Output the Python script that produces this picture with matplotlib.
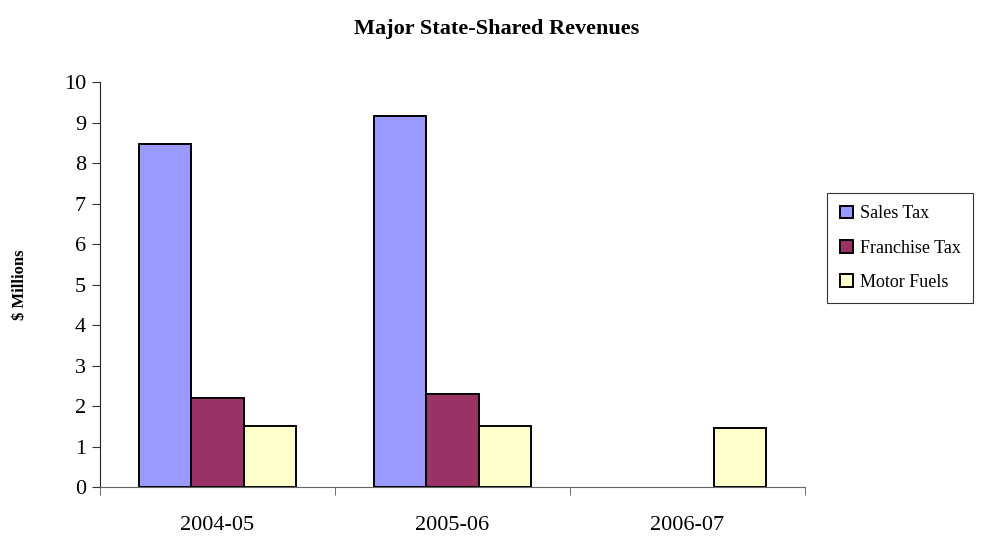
import numpy as np
import matplotlib.pyplot as plt

plt.rcParams['font.family'] = ['Liberation Serif', 'DejaVu Serif']

years = ["2004-05", "2005-06", "2006-07"]
sales_tax = [8.47, 9.16, 0]
franchise_tax = [2.2, 2.3, 0]
motor_fuels = [1.5, 1.5, 1.46]

series = [("Sales Tax", sales_tax, "#9999ff"),
          ("Franchise Tax", franchise_tax, "#993366"),
          ("Motor Fuels", motor_fuels, "#ffffcc")]

fig = plt.figure(figsize=(9.93, 5.37), dpi=100)
ax = fig.add_axes([0.1007, 0.0931, 0.71, 0.754])

x = np.arange(len(years))
w = 0.222
for i, (name, vals, col) in enumerate(series):
    vals = np.array(vals, dtype=float)
    vals[vals == 0] = np.nan  # no outline for empty bars
    ax.bar(x + (i - 1) * w, vals, width=w, color=col, edgecolor="black",
           linewidth=1.4, label=name)

ax.set_xlim(-0.5, 2.5)
ax.set_ylim(0, 10)
ax.set_yticks(range(11))
ax.set_xticks(x)
ax.set_xticklabels(years, fontsize=16)
ax.set_xticks(np.arange(-0.5, 3.0, 1), minor=True)
ax.tick_params(axis="x", which="major", length=0, pad=21)
ax.tick_params(axis="x", which="minor", length=6, direction="out", color="#555555")
ax.tick_params(axis="y", labelsize=16, length=6, color="#333333", pad=4)
for s in ["top", "right"]:
    ax.spines[s].set_visible(False)
ax.spines["left"].set_color("#222222")
ax.spines["bottom"].set_color("#666666")

ax.set_ylabel("$ Millions", fontsize=12, fontweight="bold", labelpad=26)
fig.suptitle("Major State-Shared Revenues", fontsize=16, fontweight="bold", y=0.965)

leg = ax.legend(loc="center left", bbox_to_anchor=(1.024, 0.59), fontsize=13,
                frameon=True, fancybox=False, edgecolor="black",
                handlelength=0.7, handleheight=0.7, handletextpad=0.4,
                labelspacing=0.95, borderpad=0.7, borderaxespad=0.3)
leg.get_frame().set_linewidth(0.8)

fig.savefig("out.png", dpi=100)
